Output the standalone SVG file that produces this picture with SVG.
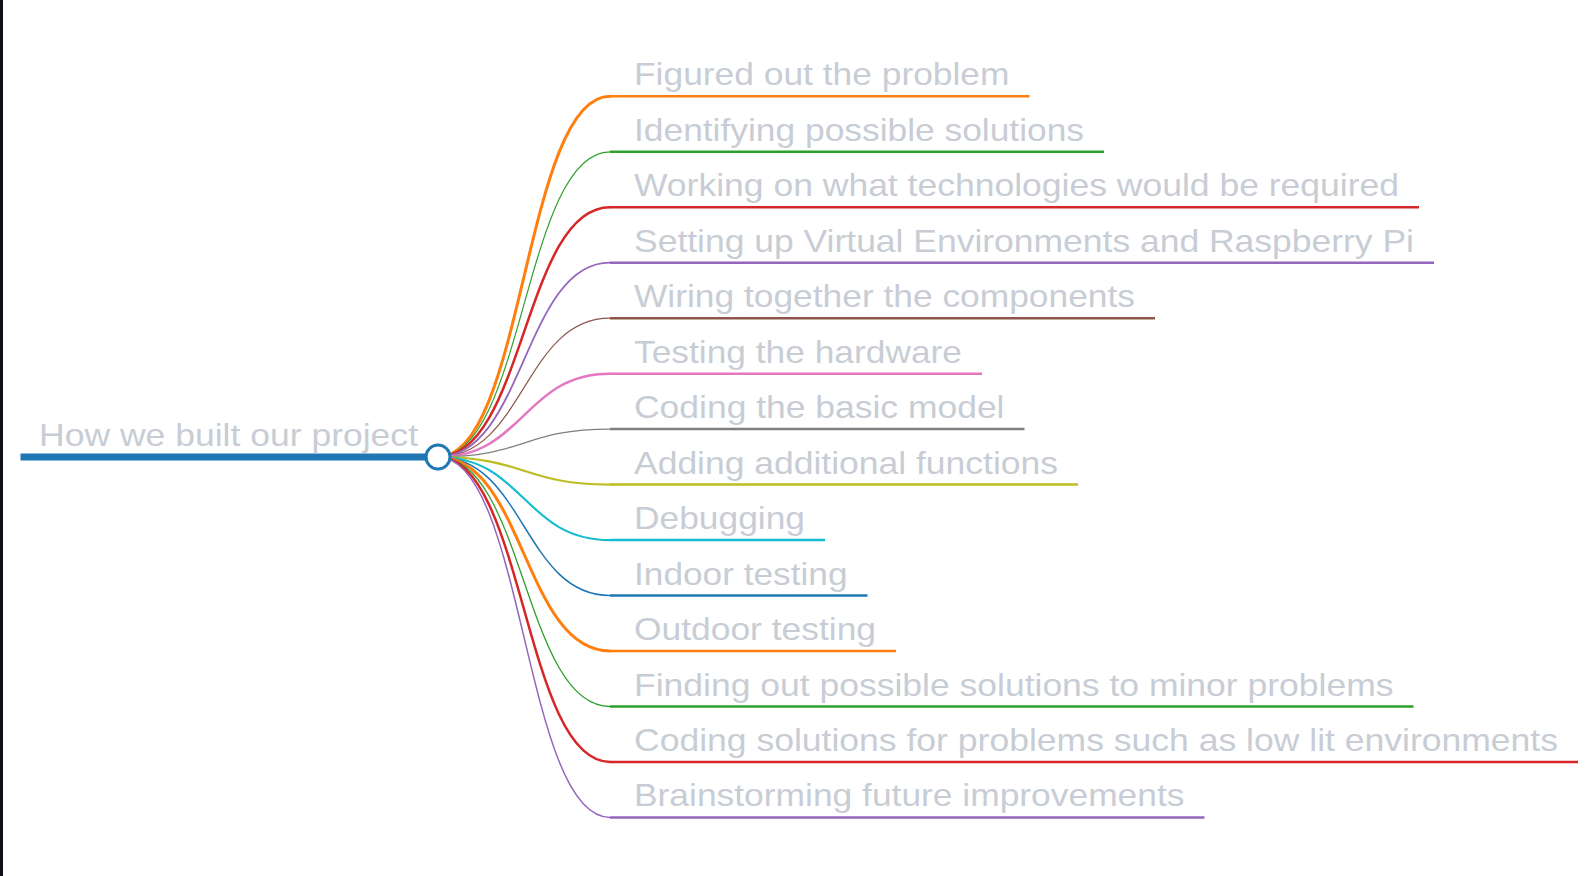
<svg xmlns="http://www.w3.org/2000/svg" width="1587" height="876" viewBox="0 0 1587 876">
<style>
.t{font-family:"Liberation Sans",Arial,Helvetica,sans-serif;font-size:30.5px;fill:#c8cdd5}
.c{fill:none;stroke-linecap:round}
.h{stroke-width:2.5}
</style>
<rect x="0" y="0" width="1587" height="876" fill="#ffffff"/>
<rect x="0" y="0" width="3" height="876" fill="#0d1117"/>
<g id="connectors">
<path class="c" stroke="#ff7f0e" stroke-width="3" d="M438 457C524 457 524 96.3 610 96.3"/>
<path class="c" stroke="#2ca02c" stroke-width="1.2" d="M438 457C524 457 524 151.8 610 151.8"/>
<path class="c" stroke="#d62728" stroke-width="2.5" d="M438 457C524 457 524 207.2 610 207.2"/>
<path class="c" stroke="#9467bd" stroke-width="1.8" d="M438 457C524 457 524 262.7 610 262.7"/>
<path class="c" stroke="#8c564b" stroke-width="1.2" d="M438 457C524 457 524 318.2 610 318.2"/>
<path class="c" stroke="#e377c2" stroke-width="2.5" d="M438 457C524 457 524 373.7 610 373.7"/>
<path class="c" stroke="#7f7f7f" stroke-width="1.3" d="M438 457C524 457 524 429.1 610 429.1"/>
<path class="c" stroke="#bcbd22" stroke-width="2.2" d="M438 457C524 457 524 484.6 610 484.6"/>
<path class="c" stroke="#17becf" stroke-width="2.2" d="M438 457C524 457 524 540.1 610 540.1"/>
<path class="c" stroke="#1f77b4" stroke-width="1.5" d="M438 457C524 457 524 595.5 610 595.5"/>
<path class="c" stroke="#ff7f0e" stroke-width="3" d="M438 457C524 457 524 651 610 651"/>
<path class="c" stroke="#2ca02c" stroke-width="1.3" d="M438 457C524 457 524 706.5 610 706.5"/>
<path class="c" stroke="#d62728" stroke-width="2.5" d="M438 457C524 457 524 761.9 610 761.9"/>
<path class="c" stroke="#9467bd" stroke-width="1.5" d="M438 457C524 457 524 817.4 610 817.4"/>
</g>
<g id="n1"><line class="h" x1="610" y1="96.3" x2="1029.5" y2="96.3" stroke="#ff7f0e"/><text class="t" x="634" y="85.3" textLength="375.5" lengthAdjust="spacingAndGlyphs">Figured out the problem</text></g>
<g id="n2"><line class="h" x1="610" y1="151.8" x2="1104" y2="151.8" stroke="#2ca02c"/><text class="t" x="634" y="140.8" textLength="450" lengthAdjust="spacingAndGlyphs">Identifying possible solutions</text></g>
<g id="n3"><line class="h" x1="610" y1="207.2" x2="1419" y2="207.2" stroke="#d62728"/><text class="t" x="634" y="196.2" textLength="765" lengthAdjust="spacingAndGlyphs">Working on what technologies would be required</text></g>
<g id="n4"><line class="h" x1="610" y1="262.7" x2="1434" y2="262.7" stroke="#9467bd"/><text class="t" x="634" y="251.7" textLength="780" lengthAdjust="spacingAndGlyphs">Setting up Virtual Environments and Raspberry Pi</text></g>
<g id="n5"><line class="h" x1="610" y1="318.2" x2="1155" y2="318.2" stroke="#8c564b"/><text class="t" x="634" y="307.2" textLength="501" lengthAdjust="spacingAndGlyphs">Wiring together the components</text></g>
<g id="n6"><line class="h" x1="610" y1="373.7" x2="982" y2="373.7" stroke="#e377c2"/><text class="t" x="634" y="362.7" textLength="328" lengthAdjust="spacingAndGlyphs">Testing the hardware</text></g>
<g id="n7"><line class="h" x1="610" y1="429.1" x2="1024.5" y2="429.1" stroke="#7f7f7f"/><text class="t" x="634" y="418.1" textLength="370.5" lengthAdjust="spacingAndGlyphs">Coding the basic model</text></g>
<g id="n8"><line class="h" x1="610" y1="484.6" x2="1078" y2="484.6" stroke="#bcbd22"/><text class="t" x="634" y="473.6" textLength="424" lengthAdjust="spacingAndGlyphs">Adding additional functions</text></g>
<g id="n9"><line class="h" x1="610" y1="540.1" x2="825" y2="540.1" stroke="#17becf"/><text class="t" x="634" y="529.1" textLength="171" lengthAdjust="spacingAndGlyphs">Debugging</text></g>
<g id="n10"><line class="h" x1="610" y1="595.5" x2="867.5" y2="595.5" stroke="#1f77b4"/><text class="t" x="634" y="584.5" textLength="213.5" lengthAdjust="spacingAndGlyphs">Indoor testing</text></g>
<g id="n11"><line class="h" x1="610" y1="651" x2="896" y2="651" stroke="#ff7f0e"/><text class="t" x="634" y="640" textLength="242" lengthAdjust="spacingAndGlyphs">Outdoor testing</text></g>
<g id="n12"><line class="h" x1="610" y1="706.5" x2="1413.5" y2="706.5" stroke="#2ca02c"/><text class="t" x="634" y="695.5" textLength="759.5" lengthAdjust="spacingAndGlyphs">Finding out possible solutions to minor problems</text></g>
<g id="n13"><line class="h" x1="610" y1="761.9" x2="1578" y2="761.9" stroke="#d62728"/><text class="t" x="634" y="750.9" textLength="924" lengthAdjust="spacingAndGlyphs">Coding solutions for problems such as low lit environments</text></g>
<g id="n14"><line class="h" x1="610" y1="817.4" x2="1204.5" y2="817.4" stroke="#9467bd"/><text class="t" x="634" y="806.4" textLength="550.5" lengthAdjust="spacingAndGlyphs">Brainstorming future improvements</text></g>
<g id="root">
<line x1="20.5" y1="457" x2="428" y2="457" stroke="#1f77b4" stroke-width="7"/>
<text class="t" x="39" y="445.5" style="font-size:32px" textLength="379" lengthAdjust="spacingAndGlyphs">How we built our project</text>
<circle cx="438" cy="457" r="12" fill="#ffffff" stroke="#1f77b4" stroke-width="3"/>
</g>
</svg>
